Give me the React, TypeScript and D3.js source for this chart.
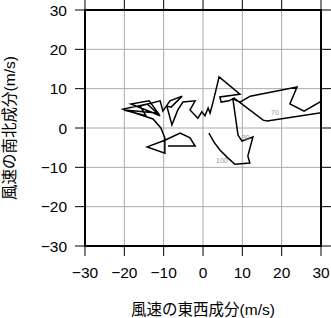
import React from "react";
import * as d3 from "d3";

const uWind = [
  -8.9, -2.0, -3.3, -5.8, -9.7, -14.2, -9.7, -9.7, -10.7, -12.7,
  -20.3, -14.2, -10.9, -18.3, -13.7, -11.4, -20.1, -14.5, -16.0, -10.9,
  -10.2, -8.4, -5.3, -8.1, -9.2, -7.9, -6.4, -5.1, -2.0, -3.3,
  -1.3, -0.3, 0.5, 1.3, 1.8, 2.5, 4.1, 9.4, 4.3, 4.6,
  6.6, 7.9, 15.3, 16.3, 32.3, 32.3, 25.7, 22.1, 23.9, 12.0,
  9.4, 7.6, 8.9, 9.9, 12.7, 11.4, 11.9, 8.1, 6.1, 4.3,
  2.8, 1.5,
];
const vWind = [
  -4.6, -4.6, -2.5, -1.3, -3.1, -4.8, -6.4, -2.5, 0.0, 2.3,
  4.8, 6.1, 3.1, 6.1, 6.9, 3.8, 4.6, 3.1, 5.6, 6.9,
  4.3, 6.9, 8.1, 5.3, 5.6, 0.8, 4.6, 6.6, 6.9, 4.6,
  2.5, 4.1, 3.1, 5.1, 3.8, 6.4, 13.0, 8.6, 7.9, 6.6,
  6.9, 7.6, 2.0, 1.8, 4.2, 8.1, 4.3, 6.1, 10.4, 8.1,
  6.6, 7.4, -1.8, -3.3, -2.3, -7.1, -8.9, -9.2, -7.4, -5.6,
  -3.6, -1.3,
];

const labelTexts = ["70", "80", "100"];
const labelU = [18.3, 10.9, 4.8];
const labelV = [3.3, -3.0, -8.8];

const xTicks = [-30, -20, -10, 0, 10, 20, 30];
const yTicks = [-30, -20, -10, 0, 10, 20, 30];

const xTitle = "風速の東西成分(m/s)";
const yTitle = "風速の南北成分(m/s)";

const W = 331;
const H = 318;
const L = 85, R = 321, T = 10, B = 246;
const FONT = "'Liberation Sans', 'Noto Sans CJK JP', Arial, sans-serif";

export default function App() {
  const x = d3.scaleLinear().domain([-30, 30]).range([L, R]);
  const y = d3.scaleLinear().domain([-30, 30]).range([B, T]);
  const pts = uWind.map((u, i) => [u, vWind[i]] as [number, number]);
  const line = d3.line<[number, number]>().x((d) => x(d[0])).y((d) => y(d[1]));
  const fmt = (v: number) => (v < 0 ? "\u2212" + Math.abs(v) : String(v));

  return (
    <svg
      width={W}
      height={H}
      style={{ position: "absolute", left: 0, top: 0, background: "#fff" }}
      fontFamily={FONT}
    >
      <defs>
        <clipPath id="plotclip">
          <rect x={L} y={T} width={R - L} height={B - T} />
        </clipPath>
      </defs>
      {xTicks.map((t) => (
        <line key={"gx" + t} x1={x(t)} x2={x(t)} y1={T} y2={B} stroke="#aaa" strokeWidth={1} />
      ))}
      {yTicks.map((t) => (
        <line key={"gy" + t} x1={L} x2={R} y1={y(t)} y2={y(t)} stroke="#aaa" strokeWidth={1} />
      ))}
      {xTicks.map((t) => (
        <g key={"tx" + t}>
          <line x1={x(t)} x2={x(t)} y1={B} y2={B + 10} stroke="#000" strokeWidth={1} />
          <line x1={x(t)} x2={x(t)} y1={T - 10} y2={T} stroke="#000" strokeWidth={1} />
          <text x={x(t)} y={278} fontSize={15.5} textAnchor="middle" fill="#000">
            {fmt(t)}
          </text>
        </g>
      ))}
      {yTicks.map((t) => (
        <g key={"ty" + t}>
          <line x1={L - 10} x2={L} y1={y(t)} y2={y(t)} stroke="#000" strokeWidth={1} />
          <line x1={R} x2={R + 10} y1={y(t)} y2={y(t)} stroke="#000" strokeWidth={1} />
          <text x={67} y={y(t) + 5.5} fontSize={15.5} textAnchor="end" fill="#000">
            {fmt(t)}
          </text>
        </g>
      ))}
      <g clipPath="url(#plotclip)">
        <path d={line(pts) || ""} fill="none" stroke="#000" strokeWidth={1.5} strokeLinejoin="miter" />
        {labelTexts.map((s, i) => (
          <text key={s} x={x(labelU[i])} y={y(labelV[i])} fontSize={7} fill="#999" textAnchor="middle">
            {s}
          </text>
        ))}
      </g>
      <rect x={L} y={T} width={R - L} height={B - T} fill="none" stroke="#000" strokeWidth={2} />
      <text x={(L + R) / 2} y={315} fontSize={15.5} textAnchor="middle" fill="#000">
        {xTitle}
      </text>
      <text
        transform={`translate(15, ${(T + B) / 2}) rotate(-90)`}
        fontSize={15.5}
        textAnchor="middle"
        fill="#000"
      >
        {yTitle}
      </text>
    </svg>
  );
}
